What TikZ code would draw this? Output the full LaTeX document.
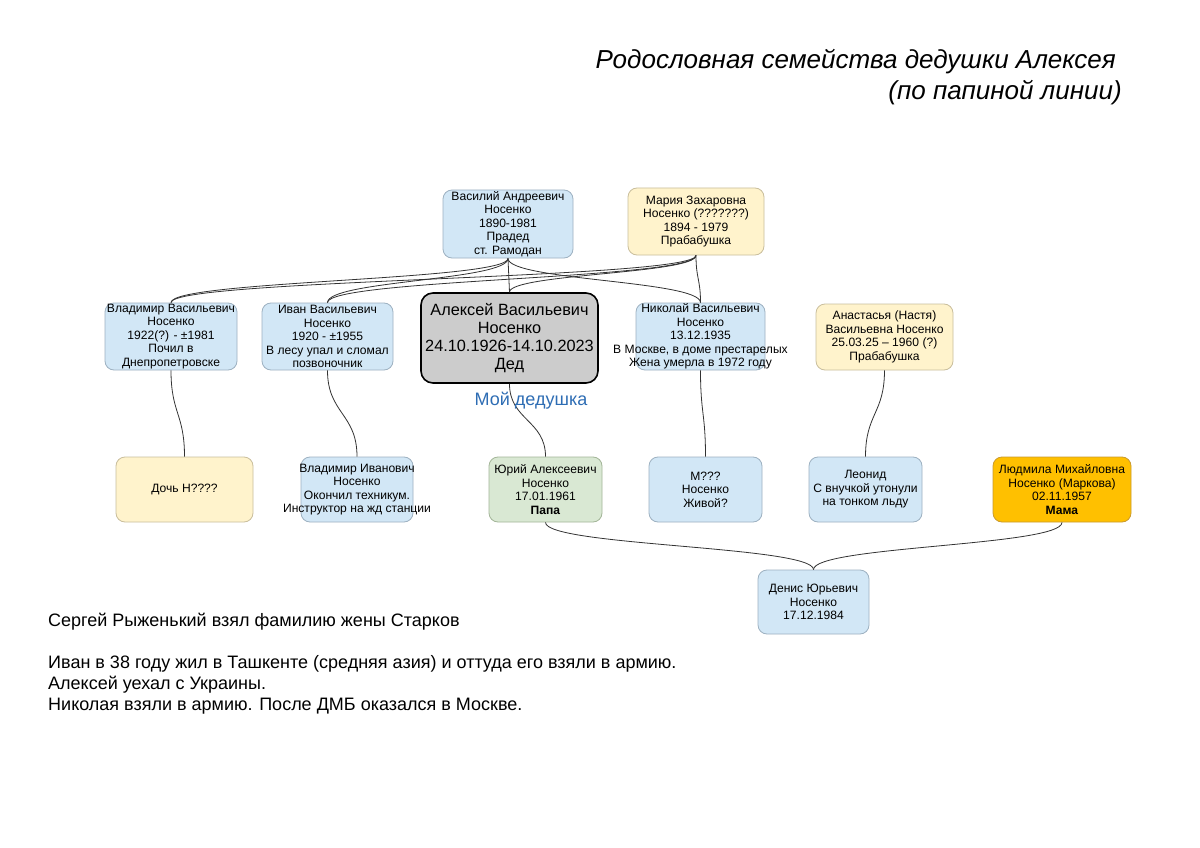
\documentclass[tikz,border=0pt]{standalone}
\usepackage{fontspec}
\setmainfont{Liberation Sans}
\usetikzlibrary{calc}
\definecolor{bluef}{HTML}{D2E7F6}
\definecolor{blued}{HTML}{9DB1C1}
\definecolor{yelf}{HTML}{FFF3CC}
\definecolor{yeld}{HTML}{C9BE9C}
\definecolor{grnf}{HTML}{D9E8D3}
\definecolor{grnd}{HTML}{A3B598}
\definecolor{orgf}{HTML}{FFC000}
\definecolor{orgd}{HTML}{C99A2E}
\definecolor{grayf}{HTML}{CCCCCC}
\definecolor{linkc}{HTML}{333333}
\definecolor{labc}{HTML}{2E6DB4}
\tikzset{
  boxbase/.style={rectangle, rounded corners=9pt, line width=0.8pt, inner sep=0pt},
  bluebox/.style={boxbase, fill=bluef, draw=blued},
  yelbox/.style={boxbase, fill=yelf, draw=yeld},
  grnbox/.style={boxbase, fill=grnf, draw=grnd},
  orgbox/.style={boxbase, fill=orgf, draw=orgd},
  graybox/.style={rectangle, rounded corners=12pt, fill=grayf, draw=black, line width=1.6pt, inner sep=0pt},
  ptext/.style={inner sep=0pt, align=center, font=\fontsize{12.1}{13.5}\selectfont},
  bigtext/.style={inner sep=0pt, align=center, font=\fontsize{16.3}{18}\selectfont},
  link/.style={draw=linkc, line width=0.8pt},
  titletext/.style={inner sep=0pt, anchor=east, font=\fontsize{26}{31}\selectfont\itshape},
  notetext/.style={inner sep=0pt, anchor=west, align=left, font=\fontsize{18}{21}\selectfont}
}
\newcommand\person[7]{%
  \node[#2, minimum width=#5, minimum height=#6] (#1) at (#3,#4) {};
  \node[ptext] (#1-t) at (#1.center) {#7};}
\newcommand\famlink[2]{%
  \path ($(#1)!0.5!(#2)$) coordinate (mtmp);
  \draw[link] (#1) .. controls (#1 |- mtmp) and (#2 |- mtmp) .. (#2);}
\begin{document}
\begin{tikzpicture}[x=1pt,y=-1pt]
\useasboundingbox[fill=white] (0,0) rectangle (1200,848);

% title
\node[titletext] (title1) at (1116,62) {Родословная семейства дедушки Алексея};
\node[titletext] (title2) at (1122,93) {(по папиной линии)};

% top row
\person{vas}{bluebox}{508}{224}{130}{68}{Василий Андреевич\\Носенко\\1890-1981\\Прадед\\ст. Рамодан}
\person{mar}{yelbox}{696}{221.5}{136}{67}{Мария Захаровна\\Носенко (???????)\\1894 - 1979\\Прабабушка}

% middle row
\person{vlad}{bluebox}{171}{336.5}{132}{67}{Владимир Васильевич\\Носенко\\1922(?) - ±1981\\Почил в\\Днепропетровске}
\person{ivan}{bluebox}{327.5}{336.5}{131}{67}{Иван Васильевич\\Носенко\\1920 - ±1955\\В лесу упал и сломал\\позвоночник}
\node[graybox, minimum width=177, minimum height=90] (alex) at (509.5,338) {};
\node[bigtext] (alex-t) at (alex.center) {Алексей Васильевич\\Носенко\\24.10.1926-14.10.2023\\Дед};
\person{nik}{bluebox}{700.5}{336.5}{129}{67}{Николай Васильевич\\Носенко\\13.12.1935\\В Москве, в доме престарелых\\Жена умерла в 1972 году}
\person{ana}{yelbox}{884.5}{337}{137}{66}{Анастасья (Настя)\\Васильевна Носенко\\25.03.25 – 1960 (?)\\Прабабушка}

% bottom row
\person{doch}{yelbox}{184.5}{489.5}{137}{65}{Дочь Н????}
\person{vi}{bluebox}{357}{489.5}{112}{65}{Владимир Иванович\\Носенко\\Окончил техникум.\\Инструктор на жд станции}
\person{yuri}{grnbox}{545.5}{489.5}{113}{65}{Юрий Алексеевич\\Носенко\\17.01.1961\\\textbf{Папа}}
\person{mq}{bluebox}{705.5}{489.5}{113}{65}{М???\\Носенко\\Живой?}
\person{leo}{bluebox}{865.5}{489.5}{113}{65}{Леонид\\С внучкой утонули\\на тонком льду}
\person{lyu}{orgbox}{1062}{489.5}{138}{65}{Людмила Михайловна\\Носенко (Маркова)\\02.11.1957\\\textbf{Мама}}

% grandson
\person{den}{bluebox}{813.5}{602}{111}{64}{Денис Юрьевич\\Носенко\\17.12.1984}

% links parents -> children
\famlink{vas.south}{vlad.north}
\famlink{vas.south}{ivan.north}
\famlink{vas.south}{alex.north}
\famlink{vas.south}{nik.north}
\famlink{mar.south}{vlad.north}
\famlink{mar.south}{ivan.north}
\famlink{mar.south}{alex.north}
\famlink{mar.south}{nik.north}

% links children -> grandchildren
\famlink{vlad.south}{doch.north}
\famlink{ivan.south}{vi.north}
\famlink{alex.south}{yuri.north}
\famlink{nik.south}{mq.north}
\famlink{ana.south}{leo.north}

\famlink{yuri.south}{den.north}
\famlink{lyu.south}{den.north}

% label
\node[inner sep=0pt, text=labc, font=\fontsize{18}{21}\selectfont] (moy) at (531,401) {Мой дедушка};

% notes
\node[notetext] (note1) at (48,622) {Сергей Рыженький взял фамилию жены Старков};
\node[notetext, anchor=north west] (note2) at (48,655) {Иван в 38 году жил в Ташкенте (средняя азия) и оттуда его взяли в армию.\\Алексей уехал с Украины.\\Николая взяли в армию. После ДМБ оказался в Москве.};
\end{tikzpicture}
\end{document}
